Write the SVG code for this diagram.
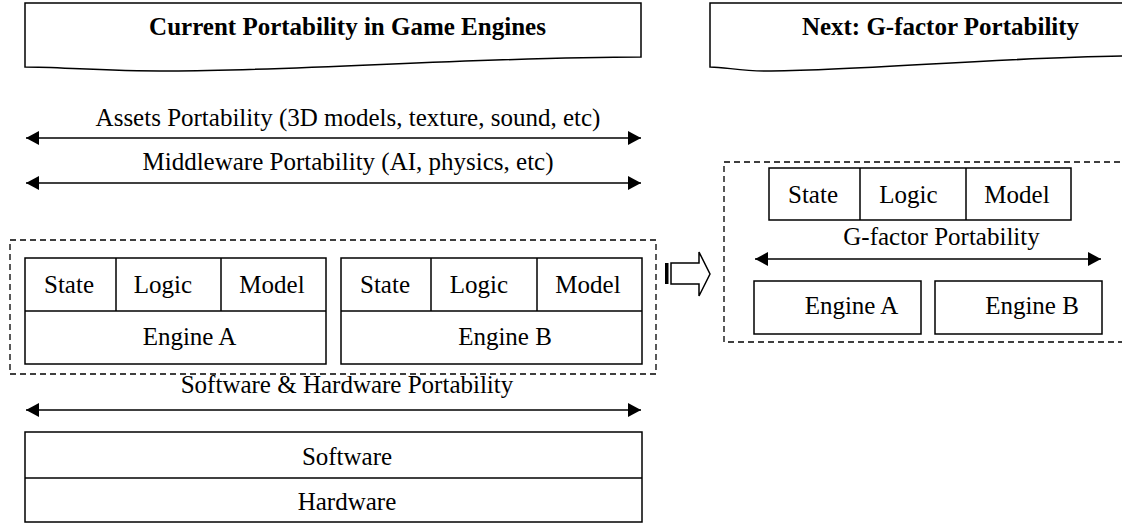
<svg xmlns="http://www.w3.org/2000/svg" width="1122" height="523" viewBox="0 0 1122 523">
  <style>
    .box { fill: #fff; stroke: #000; stroke-width: 1.5; }
    .dash { fill: none; stroke: #000; stroke-width: 1.3; stroke-dasharray: 6 4; }
    .conn { fill: none; stroke: #000; stroke-width: 1.5; marker-start: url(#headL); marker-end: url(#headR); }
    text { font-family: "Liberation Serif", "Times New Roman", serif; fill: #000; text-anchor: middle; font-size: 25px; }
    .title { font-weight: bold; }
  </style>
  <defs>
    <marker id="headR" markerUnits="userSpaceOnUse" markerWidth="14" markerHeight="14" refX="13" refY="7" orient="auto">
      <path d="M0,0 L13,7 L0,14 Z" fill="#000"/>
    </marker>
    <marker id="headL" markerUnits="userSpaceOnUse" markerWidth="14" markerHeight="14" refX="0" refY="7" orient="auto">
      <path d="M13,0 L0,7 L13,14 Z" fill="#000"/>
    </marker>
  </defs>

  <rect width="1122" height="523" fill="#fff"/>

  <!-- Section titles (document shapes) -->
  <g id="title-current">
    <path class="box" d="M25,3 H641 V57 C480,57 300,71 170,71 C100,71 60,67 25,67 Z"/>
    <text class="title" x="347.5" y="35">Current Portability in Game Engines</text>
  </g>
  <g id="title-next">
    <path class="box" d="M710,3 H1130 V56 C1000,57 860,71 765,71 C740,71 725,67 710,67 Z"/>
    <text class="title" x="940.5" y="35">Next: G-factor Portability</text>
  </g>

  <!-- Portability labels -->
  <g id="labels">
    <text x="348" y="126">Assets Portability (3D models, texture, sound, etc)</text>
    <text x="348" y="170">Middleware Portability (AI, physics, etc)</text>
    <text x="347" y="393">Software &amp; Hardware Portability</text>
    <text x="941.5" y="245">G-factor Portability</text>
  </g>

  <!-- Current engines group -->
  <rect id="engines-frame" class="dash" x="10" y="240" width="646" height="134"/>

  <g id="engine-a">
    <rect class="box" x="25" y="258" width="301" height="106"/>
    <line class="box" x1="25" y1="311" x2="326" y2="311"/>
    <line class="box" x1="116" y1="258" x2="116" y2="311"/>
    <line class="box" x1="221" y1="258" x2="221" y2="311"/>
    <text x="69" y="293">State</text>
    <text x="163" y="293">Logic</text>
    <text x="272" y="293">Model</text>
    <text x="189.5" y="345">Engine A</text>
  </g>

  <g id="engine-b">
    <rect class="box" x="341" y="258" width="301" height="106"/>
    <line class="box" x1="341" y1="311" x2="642" y2="311"/>
    <line class="box" x1="431" y1="258" x2="431" y2="311"/>
    <line class="box" x1="537" y1="258" x2="537" y2="311"/>
    <text x="385" y="293">State</text>
    <text x="479" y="293">Logic</text>
    <text x="588" y="293">Model</text>
    <text x="505" y="345">Engine B</text>
  </g>

  <g id="platform">
    <rect class="box" x="25" y="432" width="617" height="90"/>
    <line class="box" x1="25" y1="478" x2="642" y2="478"/>
    <text x="347" y="465">Software</text>
    <text x="347" y="510">Hardware</text>
  </g>

  <!-- Transition arrow -->
  <g id="transition">
    <rect x="665" y="263" width="3.5" height="21" fill="#000"/>
    <path class="box" d="M671,263 H699 V252 L710,274 L699,296 V284 H671 Z"/>
  </g>

  <!-- G-factor group -->
  <rect id="gfactor-frame" class="dash" x="724" y="162" width="410" height="180"/>

  <g id="gfactor-parts">
    <rect class="box" x="769" y="168" width="302" height="52"/>
    <line class="box" x1="860" y1="168" x2="860" y2="220"/>
    <line class="box" x1="966" y1="168" x2="966" y2="220"/>
    <text x="813" y="203">State</text>
    <text x="908.5" y="203">Logic</text>
    <text x="1017" y="203">Model</text>
  </g>

  <g id="gfactor-engine-a">
    <rect class="box" x="754" y="281" width="167" height="53"/>
    <text x="851.5" y="314">Engine A</text>
  </g>
  <g id="gfactor-engine-b">
    <rect class="box" x="935" y="281" width="167" height="53"/>
    <text x="1032" y="314">Engine B</text>
  </g>

  <!-- Connectors -->
  <g id="connectors">
    <line class="conn" x1="26" y1="138" x2="641" y2="138"/>
    <line class="conn" x1="26" y1="183" x2="641" y2="183"/>
    <line class="conn" x1="26" y1="410" x2="641" y2="410"/>
    <line class="conn" x1="755" y1="259" x2="1101" y2="259"/>
  </g>
</svg>
